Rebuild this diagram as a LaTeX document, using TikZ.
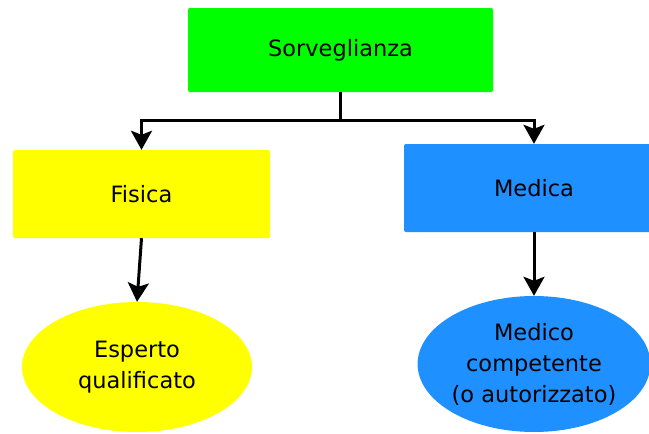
\documentclass[tikz,border=0pt]{standalone}
\usepackage{fontspec}
\setmainfont{DejaVu Sans}
\usetikzlibrary{arrows.meta,shapes.geometric}
\definecolor{verde}{RGB}{0,255,0}
\definecolor{giallo}{RGB}{255,255,0}
\definecolor{blu}{RGB}{30,144,255}

\begin{document}
\begin{tikzpicture}[x=1pt,y=-1pt,
    box/.style={rectangle,rounded corners=2pt,inner sep=0pt,font=\fontsize{22.5}{31}\selectfont},
    oval/.style={ellipse,inner sep=0pt,align=center,font=\fontsize{22.5}{31}\selectfont},
    freccia/.style={-{Stealth[length=19pt,width=21pt,inset=4pt,fill=black]},line width=3pt,black}]

    \useasboundingbox (0,0) rectangle (649,434);

    %%%%%%%%%%%%%%%%%%%%%%%%%%%%%%%%%%%%%%%%%%%%%%%%%%%%%%

    % surveillance (top)
    \node[box,fill=verde,minimum width=305pt,minimum height=84pt] (sorv) at (340.5,50) {Sorveglianza};

    %%%%%%%%%%%%%%%%%%%%%%%%%%%%%%%%%%%%%%%%%%%%%%%%%%%%%%

    % physical branch
    \node[box,fill=giallo,minimum width=257pt,minimum height=88pt] (fis) at (141.5,194) {Fisica};
    \node[oval,fill=giallo,minimum width=230pt,minimum height=130pt] (esp) at (137,367) {Esperto\\qualificato};

    %%%%%%%%%%%%%%%%%%%%%%%%%%%%%%%%%%%%%%%%%%%%%%%%%%%%%%

    % medical branch
    \node[box,fill=blu,minimum width=260pt,minimum height=88pt] (med) at (534,188) {Medica};
    \node[oval,fill=blu,minimum width=230pt,minimum height=136pt] (mc) at (534,364) {Medico\\competente\\(o autorizzato)};

    %%%%%%%%%%%%%%%%%%%%%%%%%%%%%%%%%%%%%%%%%%%%%%%%%%%%%%

    % connectors
    \draw[freccia] (sorv.south) -- ++(0,28) -| (fis.north);
    \draw[freccia] (sorv.south) -- ++(0,28) -| (med.north);
    \draw[freccia] (fis.south) -- (esp.north);
    \draw[freccia] (med.south) -- (mc.north);

\end{tikzpicture}
\end{document}
